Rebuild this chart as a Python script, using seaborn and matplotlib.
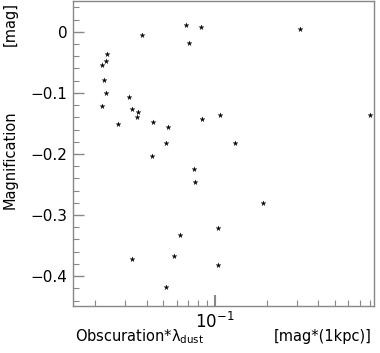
import matplotlib
matplotlib.use("Agg")
import matplotlib.pyplot as plt
import seaborn as sns
import pandas as pd
from matplotlib.ticker import LogLocator, MultipleLocator, FixedLocator, NullFormatter

sns.set_theme(style="white")
plt.rcParams['font.family'] = ['DejaVu Sans']
plt.rcParams['text.color'] = 'black'
plt.rcParams['xtick.color'] = 'black'
plt.rcParams['ytick.color'] = 'black'
plt.rcParams['mathtext.default'] = 'regular'

obscuration = [0.0678, 0.0825, 0.3126, 0.0377, 0.0703, 0.0235, 0.0232, 0.0219,
               0.0226, 0.0232, 0.0316, 0.0221, 0.0329, 0.0358, 0.0351, 0.1069,
               0.0843, 0.799, 0.0437, 0.0271, 0.0530, 0.1313, 0.0520, 0.0431,
               0.0755, 0.0762, 0.1896, 0.1045, 0.0628, 0.0575, 0.0330, 0.1045,
               0.0518]
magnification = [0.0114, 0.0086, 0.0049, -0.0049, -0.0175, -0.0370, -0.0478, -0.0550,
                 -0.0788, -0.1007, -0.1072, -0.1212, -0.1256, -0.1321, -0.1398, -0.1354,
                 -0.1431, -0.1354, -0.1473, -0.1506, -0.1555, -0.1822, -0.1822, -0.2039,
                 -0.2246, -0.2458, -0.2801, -0.3214, -0.3328, -0.3670, -0.3715, -0.3817,
                 -0.4171]
y_ticks = [0.0, -0.1, -0.2, -0.3, -0.4]
y_tick_labels = ["0", "\u22120.1", "\u22120.2", "\u22120.3", "\u22120.4"]

df = pd.DataFrame({"x": obscuration, "y": magnification})

fig = plt.figure(figsize=(3.8, 3.53), dpi=100)
ax = fig.add_axes([73/380, 1 - 306/353, 301/380, 305/353])

sns.scatterplot(data=df, x="x", y="y", ax=ax, marker="*", s=14,
                color="black", edgecolor="black", linewidth=0.2, legend=False)

ax.set_xscale("log")
ax.set_xlim(0.0149, 0.845)
ax.set_ylim(-0.449, 0.0505)

for sp in ax.spines.values():
    sp.set_color("#888888")
    sp.set_linewidth(1.0)

ax.set_yticks(y_ticks)
ax.set_yticklabels(y_tick_labels)
ax.yaxis.set_minor_locator(MultipleLocator(0.02))
ax.xaxis.set_major_locator(FixedLocator([0.1]))
ax.set_xticklabels(["$10^{-1}$"])
ax.xaxis.set_minor_locator(LogLocator(base=10, subs=range(2, 10)))
ax.xaxis.set_minor_formatter(NullFormatter())

ax.tick_params(axis="both", which="both", direction="in", color="#888888",
               labelcolor="black", top=False, right=False, left=True, bottom=True)
ax.tick_params(axis="y", which="major", length=8, width=1, labelsize=11, pad=4)
ax.tick_params(axis="y", which="minor", length=4, width=0.8)
ax.tick_params(axis="x", which="major", length=8, width=1.5, labelsize=12, pad=4)
ax.tick_params(axis="x", which="minor", length=4, width=0.8)

ax.set_xlabel("")
ax.set_ylabel("")
fig.text(140/380, 1 - 337/353, "Obscuration*\u03bb$_{dust}$",
         ha="center", va="center", fontsize=10.5, color="black")
fig.text(372/380, 1 - 337/353, "[mag*(1kpc)]", ha="right", va="center",
         fontsize=10.5, color="black")
fig.text(10/380, 1 - 160/353, "Magnification", rotation=90, ha="center", va="center",
         fontsize=10.5, color="black")
fig.text(10/380, 1 - 24/353, "[mag]", rotation=90, ha="center", va="center",
         fontsize=10.5, color="black")

fig.savefig("out.png", dpi=100)
